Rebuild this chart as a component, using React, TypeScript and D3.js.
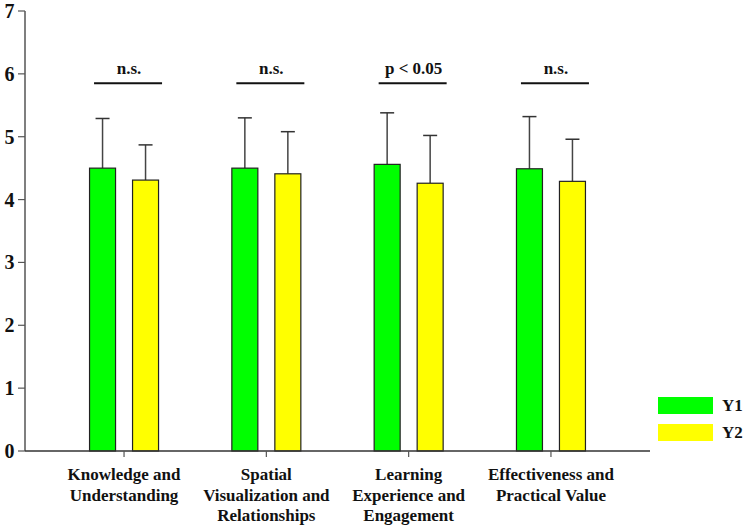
import { scaleLinear, scalePoint } from 'd3';

// --- Data ---
const categories = [
    ['Knowledge and', 'Understanding'],
    ['Spatial', 'Visualization and', 'Relationships'],
    ['Learning', 'Experience and', 'Engagement'],
    ['Effectiveness and', 'Practical Value'],
];
const seriesNames = ['Y1', 'Y2'];
const seriesColors = ['#00ff00', '#ffff00'];
const y1Means = [4.50, 4.50, 4.56, 4.49];
const y1Sd = [0.79, 0.80, 0.82, 0.83];
const y2Means = [4.31, 4.41, 4.26, 4.29];
const y2Sd = [0.56, 0.67, 0.76, 0.67];
const sigLabels = ['n.s.', 'n.s.', 'p < 0.05', 'n.s.'];
const sigLevel = 5.85;
const yTicks = [0, 1, 2, 3, 4, 5, 6, 7];

const W = 746;
const H = 525;
const FONT = "'Liberation Serif', 'Times New Roman', serif";

const x = scalePoint<number>()
    .domain(categories.map((_, i) => i))
    .range([25, 650])
    .padding(0.696);
const y = scaleLinear().domain([0, 7]).range([451, 11]);

const barW = 26;
const offset = 21.5;
const series = [
    { name: seriesNames[0], means: y1Means, sd: y1Sd, dx: -offset, color: seriesColors[0] },
    { name: seriesNames[1], means: y2Means, sd: y2Sd, dx: offset, color: seriesColors[1] },
];

const txt = { fontFamily: FONT, fontWeight: 'bold' as const, fill: '#111' };

const App = () => {
    const y0 = y(0);
    return (
        <svg width={W} height={H} style={{ position: 'absolute', top: 0, left: 0, fontFamily: FONT }}>
            <rect width={W} height={H} fill="#fff" />

            {/* error bars */}
            {series.map(s => s.means.map((m, i) => {
                const cx = (x(i) as number) + s.dx;
                const top = y(m + s.sd[i]);
                return (
                    <g key={s.name + i}>
                        <line x1={cx} x2={cx} y1={y(m)} y2={top} stroke="#444" strokeWidth={1.5} />
                        <line x1={cx - 7} x2={cx + 7} y1={top} y2={top} stroke="#333" strokeWidth={1.5} />
                    </g>
                );
            }))}

            {/* bars */}
            {series.map(s => s.means.map((m, i) => (
                <rect
                    key={'b' + s.name + i}
                    x={(x(i) as number) + s.dx - barW / 2}
                    y={y(m)}
                    width={barW}
                    height={y0 - y(m)}
                    fill={s.color}
                    stroke="#222"
                    strokeWidth={1.2}
                />
            )))}

            {/* y axis */}
            <line x1={25} x2={25} y1={y(7)} y2={y0} stroke="#555" strokeWidth={1.5} />
            {yTicks.map(t => (
                <g key={'yt' + t}>
                    <line x1={18} x2={25} y1={y(t)} y2={y(t)} stroke="#555" strokeWidth={1.2} />
                    <text x={14.5} y={y(t) + 7} textAnchor="end" fontSize={20} style={txt}>{t}</text>
                </g>
            ))}

            {/* x axis */}
            <line x1={25} x2={650} y1={y0} y2={y0} stroke="#333" strokeWidth={1.5} />
            {categories.map((lines, i) => (
                <g key={'xt' + i}>
                    <line x1={x(i)} x2={x(i)} y1={y0} y2={y0 + 6} stroke="#555" strokeWidth={1.2} />
                    {lines.map((ln, j) => (
                        <text key={j} x={x(i)} y={480 + j * 20.5} textAnchor="middle" fontSize={17} style={txt}>{ln}</text>
                    ))}
                </g>
            ))}

            {/* significance */}
            {sigLabels.map((lab, i) => {
                const cx = (x(i) as number) + 4;
                const ly = y(sigLevel);
                return (
                    <g key={'s' + i}>
                        <line x1={cx - 34} x2={cx + 34} y1={ly} y2={ly} stroke="#111" strokeWidth={2} />
                        <text x={cx + 1} y={ly - 9.5} textAnchor="middle" fontSize={17} style={txt}>{lab}</text>
                    </g>
                );
            })}

            {/* legend */}
            {series.map((s, i) => {
                const ly = 397 + i * 27;
                return (
                    <g key={'l' + i}>
                        <rect x={658} y={ly} width={55} height={17} fill={s.color} />
                        <text x={722} y={ly + 14} fontSize={17} style={txt}>{s.name}</text>
                    </g>
                );
            })}
        </svg>
    );
};

export default App;
